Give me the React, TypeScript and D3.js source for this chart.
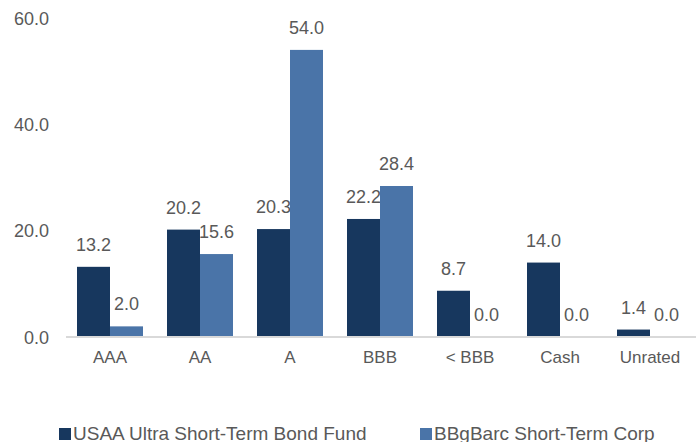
import { useEffect, useRef } from "react";
import { scaleBand, scaleLinear, select, axisLeft } from "d3";

const categories = ["AAA", "AA", "A", "BBB", "< BBB", "Cash", "Unrated"];
const seriesNames = ["USAA Ultra Short-Term Bond Fund", "BBgBarc Short-Term Corp"];
const fundValues = [13.2, 20.2, 20.3, 22.2, 8.7, 14.0, 1.4];
const benchValues = [2.0, 15.6, 54.0, 28.4, 0.0, 0.0, 0.0];
const yTicks = [0, 20, 40, 60];
const colors = ["#17375E", "#4A74A8"];

const width = 696;
const height = 442;
const font = "'Liberation Sans', Arial, sans-serif";
const textColor = "#595959";

function YAxis({ scale }: { scale: any }) {
  const ref = useRef<SVGGElement>(null);
  useEffect(() => {
    if (ref.current) {
      const g = select(ref.current);
      g.call(
        axisLeft(scale)
          .tickValues(yTicks)
          .tickSize(0)
          .tickPadding(0)
          .tickFormat((d: any) => Number(d).toFixed(1))
      );
      g.select(".domain").remove();
      g.selectAll("text")
        .attr("font-family", font)
        .attr("font-size", 18)
        .attr("fill", textColor)
        .attr("dy", "0.35em");
    }
  }, [scale]);
  return <g ref={ref} transform="translate(49,0)" />;
}

export default function App() {
  const x = scaleBand().domain(categories).range([65, 695]).padding(0);
  const inner = scaleBand()
    .domain(seriesNames)
    .range([12, x.bandwidth() - 12])
    .padding(0);
  const y = scaleLinear().domain([0, 60]).range([337, 18]);

  const series = [fundValues, benchValues];

  return (
    <svg
      width={width}
      height={height}
      style={{ position: "absolute", left: 0, top: 0, background: "#fff" }}
    >
      <YAxis scale={y} />
      {series.map((vals, si) =>
        vals.map((v, ci) => {
          const bx = (x(categories[ci]) ?? 0) + (inner(seriesNames[si]) ?? 0);
          return (
            <g key={`bar-${si}-${ci}`}>
              <rect
                x={bx}
                y={y(v)}
                width={inner.bandwidth()}
                height={y(0) - y(v)}
                fill={colors[si]}
              />
              <text
                x={bx + inner.bandwidth() / 2}
                y={y(v) - 16}
                textAnchor="middle"
                fontFamily={font}
                fontSize={18}
                fill={textColor}
              >
                {v.toFixed(1)}
              </text>
            </g>
          );
        })
      )}
      <line x1={66} x2={696} y1={y(0)} y2={y(0)} stroke="#D9D9D9" strokeWidth={2} />
      {categories.map((c) => (
        <text
          key={c}
          x={(x(c) ?? 0) + x.bandwidth() / 2}
          y={363}
          textAnchor="middle"
          fontFamily={font}
          fontSize={17}
          fill={textColor}
        >
          {c}
        </text>
      ))}
      {seriesNames.map((s, i) => {
        const lx = [59, 420][i];
        return (
          <g key={s}>
            <rect x={lx} y={428} width={12} height={12} fill={colors[i]} />
            <text x={lx + 14} y={440} fontFamily={font} fontSize={19} fill={textColor}>
              {s}
            </text>
          </g>
        );
      })}
    </svg>
  );
}
